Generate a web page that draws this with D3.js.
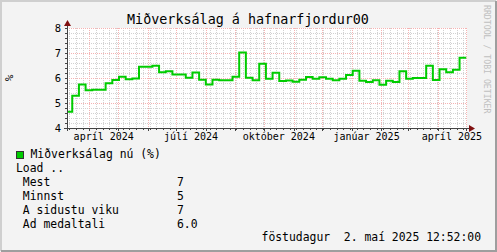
<!DOCTYPE html>
<html>
<head>
<meta charset="utf-8">
<script src="https://cdn.jsdelivr.net/npm/d3@7"></script>
<style>
  body { margin: 0; background: #f3f3f3; }
  svg text { font-family: "DejaVu Sans Mono", monospace; white-space: pre; }
</style>
</head>
<body>
<div id="Chart"></div>
<script>
// weekly values (%), first week starts 7 Mar 2024
var firstWeek = new Date(Date.UTC(2024, 2, 7));
var weekValues = [4.65, 5.29, 5.74, 5.51, 5.53, 5.53, 5.79, 5.92, 6.05, 5.95,
                  5.98, 6.45, 6.45, 6.49, 6.23, 6.27, 6.14, 6.14, 6.01, 6.22,
                  5.93, 5.74, 5.93, 5.91, 5.91, 6.05, 7.02, 6.01, 5.91, 6.57,
                  5.97, 6.21, 5.88, 5.90, 5.85, 5.93, 6.04, 5.97, 6.03, 5.97,
                  5.91, 5.97, 6.12, 6.29, 5.89, 5.84, 5.91, 5.73, 5.89, 5.84,
                  6.27, 5.97, 6.00, 6.00, 6.49, 5.92, 6.35, 6.23, 6.33, 6.81];
var yTicks = [4, 5, 6, 7, 8];
var xLabels = ["apríl 2024", "júlí 2024", "október 2024", "janúar 2025", "apríl 2025"];
var legendRows = [" Mest", " Minnst", " A sidustu viku", " Ad medaltali"];
var legendVals = ["7", "5", "7", "6.0"];

var W = 497, H = 252;
var plotL = 67, plotR = 467, plotT = 28, plotB = 128;

var svg = d3.select("#Chart").append("svg")
    .attr("width", W).attr("height", H);

// canvas + 3d frame
svg.append("rect").attr("width", W).attr("height", H).attr("fill", "#f3f3f3");
svg.append("path").attr("d", "M1,251V1H496").attr("fill", "none").attr("stroke", "#cfcfcf").attr("stroke-width", 2);
svg.append("path").attr("d", "M1,251H496V1").attr("fill", "none").attr("stroke", "#9e9e9e").attr("stroke-width", 2);

var x = d3.scaleUtc()
    .domain([new Date(Date.UTC(2024, 2, 8, 12)), new Date(Date.UTC(2025, 4, 1, 19))])
    .range([plotL, plotR]);
var y = d3.scaleLinear().domain([4, 8]).range([plotB, plotT]);

svg.append("rect").attr("x", plotL).attr("y", plotT)
    .attr("width", plotR - plotL).attr("height", plotB - plotT).attr("fill", "#ffffff");

var g = svg.append("g").attr("shape-rendering", "crispEdges");

// minor grid
var mondays = d3.utcMonday.range(x.domain()[0], x.domain()[1]);
var months = d3.utcMonth.range(x.domain()[0], x.domain()[1]);
var minorY = d3.range(40, 81, 2).map(d => d / 10).filter(d => d % 1 !== 0);

g.selectAll(".vminor").data(mondays).enter().append("line")
    .attr("x1", d => Math.round(x(d)) + 0.5).attr("x2", d => Math.round(x(d)) + 0.5)
    .attr("y1", plotT).attr("y2", plotB)
    .attr("stroke", "#d2d2d2").attr("stroke-dasharray", "1,1");
g.selectAll(".hminor").data(minorY).enter().append("line")
    .attr("x1", plotL).attr("x2", plotR)
    .attr("y1", d => Math.round(y(d)) + 0.5).attr("y2", d => Math.round(y(d)) + 0.5)
    .attr("stroke", "#d2d2d2").attr("stroke-dasharray", "1,1");

// major grid
g.selectAll(".vmajor").data(months).enter().append("line")
    .attr("x1", d => Math.round(x(d)) + 0.5).attr("x2", d => Math.round(x(d)) + 0.5)
    .attr("y1", plotT).attr("y2", plotB)
    .attr("stroke", "#f5b3b3").attr("stroke-dasharray", "1,1");
g.selectAll(".hmajor").data(yTicks).enter().append("line")
    .attr("x1", plotL).attr("x2", plotR)
    .attr("y1", d => Math.round(y(d)) + 0.5).attr("y2", d => Math.round(y(d)) + 0.5)
    .attr("stroke", "#f5b3b3").attr("stroke-dasharray", "1,1");

// ticks
g.selectAll(".ytick").data(minorY.concat(yTicks)).enter().append("line")
    .attr("x1", plotL - 2).attr("x2", plotL)
    .attr("y1", d => Math.round(y(d)) + 0.5).attr("y2", d => Math.round(y(d)) + 0.5)
    .attr("stroke", "#444");
g.selectAll(".xtick").data(months).enter().append("line")
    .attr("x1", d => Math.round(x(d)) + 0.5).attr("x2", d => Math.round(x(d)) + 0.5)
    .attr("y1", plotB).attr("y2", plotB + 3)
    .attr("stroke", "#444");
g.selectAll(".xtickm").data(mondays).enter().append("line")
    .attr("x1", d => Math.round(x(d)) + 0.5).attr("x2", d => Math.round(x(d)) + 0.5)
    .attr("y1", plotB).attr("y2", plotB + 2)
    .attr("stroke", "#444");

// data line (weekly steps)
var pts = weekValues.map((v, i) => ({date: d3.utcDay.offset(firstWeek, 7 * i), v: v}));
pts.push({date: d3.utcDay.offset(firstWeek, 7 * weekValues.length), v: weekValues[weekValues.length - 1]});

svg.append("clipPath").attr("id", "clip").append("rect")
    .attr("x", plotL).attr("y", plotT - 2).attr("width", plotR - plotL).attr("height", plotB - plotT + 4);

var line = d3.line().x(d => x(d.date)).y(d => y(d.v)).curve(d3.curveStepAfter);
svg.append("path").datum(pts)
    .attr("clip-path", "url(#clip)")
    .attr("d", line)
    .attr("fill", "none").attr("stroke", "#00cc00").attr("stroke-width", 2);

// axes with arrows
var ax = svg.append("g").attr("shape-rendering", "crispEdges");
ax.append("line").attr("x1", plotL - 3).attr("x2", plotR + 4)
    .attr("y1", plotB + 0.5).attr("y2", plotB + 0.5).attr("stroke", "#444");
ax.append("line").attr("x1", plotL + 0.5).attr("x2", plotL + 0.5)
    .attr("y1", plotB + 3).attr("y2", plotT - 4).attr("stroke", "#444");
svg.append("path").attr("d", `M${plotR + 2},${plotB - 3}L${plotR + 8},${plotB + 0.5}L${plotR + 2},${plotB + 4}Z`)
    .attr("fill", "#801010");
svg.append("path").attr("d", `M${plotL - 3},${plotT - 2}L${plotL + 0.5},${plotT - 8}L${plotL + 4},${plotT - 2}Z`)
    .attr("fill", "#801010");

// y labels
svg.selectAll(".ylab").data(yTicks).enter().append("text")
    .attr("x", plotL - 6).attr("y", d => y(d) + 3.5)
    .attr("text-anchor", "end").attr("font-size", "10.5px").attr("fill", "#000")
    .text(d => d);

// x labels, centered in the middle of the month
var labelMonths = d3.utcMonth.every(3).range(d3.utcMonth.offset(x.domain()[0], -1), x.domain()[1])
    .filter(d => x(d) > plotL);
svg.selectAll(".xlab").data(labelMonths).enter().append("text")
    .attr("x", d => (x(d) + x(d3.utcMonth.offset(d, 1))) / 2)
    .attr("y", 140)
    .attr("text-anchor", "middle").attr("font-size", "10px").attr("fill", "#000")
    .text((d, i) => xLabels[i]);

// title
svg.append("text").attr("x", 248).attr("y", 24)
    .attr("text-anchor", "middle").attr("font-size", "13.4px").attr("fill", "#000")
    .text("Miðverksálag á hafnarfjordur00");

// vertical unit label
svg.append("text").attr("transform", "translate(13,78) rotate(-90)")
    .attr("text-anchor", "middle").attr("font-size", "11px").attr("fill", "#000")
    .text("%");

// watermark
svg.append("text").attr("transform", "translate(484,5) rotate(90)")
    .attr("font-size", "8.2px").attr("fill", "#c0c0c0")
    .text("RRDTOOL / TOBI OETIKER");

// legend
svg.append("rect").attr("x", 16.5).attr("y", 151.5).attr("width", 7).attr("height", 7)
    .attr("fill", "#00cc00").attr("stroke", "#333").attr("stroke-width", 1);
var fs = "11.4px";
svg.append("text").attr("x", 30.5).attr("y", 158).attr("font-size", fs).text("Miðverksálag nú (%)");
svg.append("text").attr("x", 16).attr("y", 172).attr("font-size", fs).text("Load ..");
svg.selectAll(".lrow").data(legendRows).enter().append("text")
    .attr("x", 16).attr("y", (d, i) => 186 + i * 14).attr("font-size", fs).text(d => d);
svg.selectAll(".lval").data(legendVals).enter().append("text")
    .attr("x", 177).attr("y", (d, i) => 186 + i * 14).attr("font-size", fs).text(d => d);

svg.append("text").attr("x", 481).attr("y", 241).attr("text-anchor", "end")
    .attr("font-size", fs).text("föstudagur  2. maí 2025 12:52:00");
</script>
</body>
</html>
